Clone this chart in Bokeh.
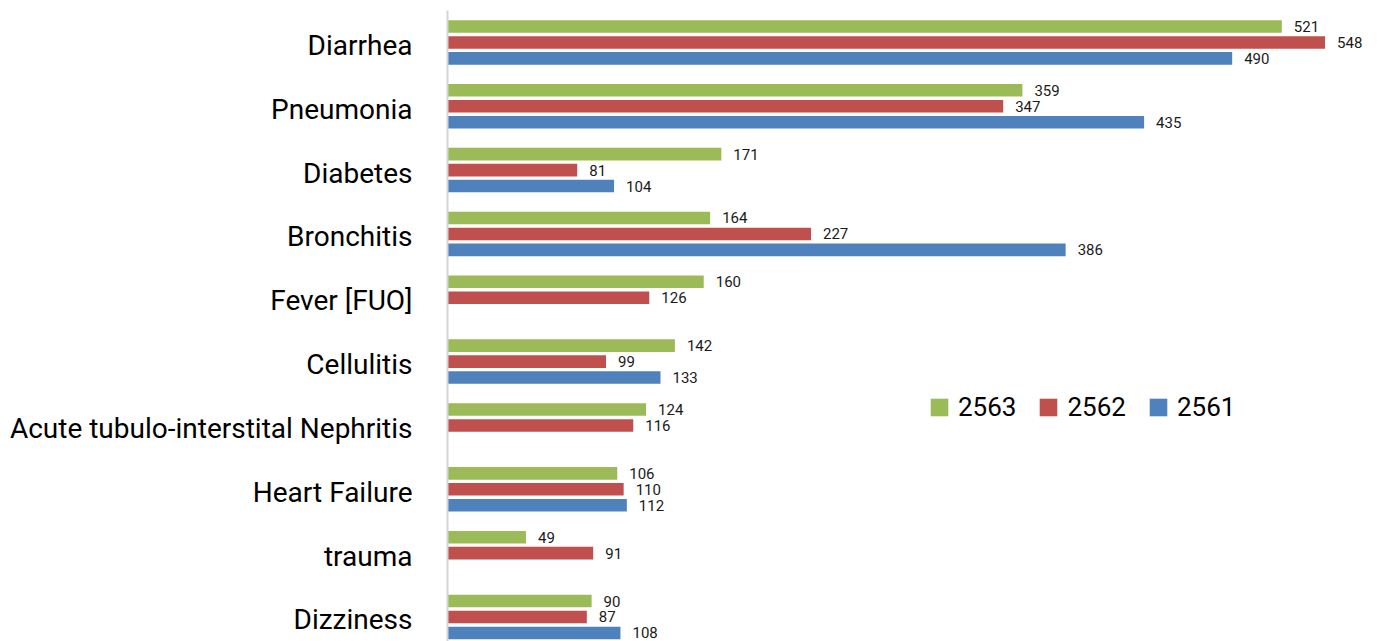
from bokeh.plotting import figure
from bokeh.models import ColumnDataSource, Range1d, FixedTicker, Legend, LegendItem
from bokeh.core.properties import value
from bokeh.embed import file_html
from bokeh.resources import INLINE

# Top ten diagnoses, counts per year (Buddhist era)
categories = ["Diarrhea", "Pneumonia", "Diabetes", "Bronchitis", "Fever [FUO]",
              "Cellulitis", "Acute tubulo-interstital Nephritis", "Heart Failure",
              "trauma", "Dizziness"]
years = ["2563", "2562", "2561"]
counts_2563 = [521, 359, 171, 164, 160, 142, 124, 106, 49, 90]
counts_2562 = [548, 347, 81, 227, 126, 99, 116, 110, 91, 87]
counts_2561 = [490, 435, 104, 386, None, 133, None, 112, None, 108]

colors = {"2563": "#9BBB59", "2562": "#C0504D", "2561": "#4F81BD"}
offsets = {"2563": 0.25, "2562": 0.0, "2561": -0.25}
series = {"2563": counts_2563, "2562": counts_2562, "2561": counts_2561}

FONT = "Roboto"
n = len(categories)
centers = [n - 1 - i for i in range(n)]
# category names sit a touch below the middle of each group
label_shift = 0.046875
tick_pos = [c - label_shift for c in centers]

p = figure(width=1379, height=641, output_backend="svg", toolbar_location=None,
           x_range=Range1d(0, 582), y_range=Range1d(-0.384, n - 0.5),
           min_border_left=447, min_border_right=0, min_border_top=10,
           min_border_bottom=0)
p.outline_line_color = None
p.xgrid.visible = False
p.ygrid.visible = False
p.xaxis.visible = False
p.background_fill_color = "white"
p.border_fill_color = "white"

renderers = {}
for yr in years:
    ys, xs, labels = [], [], []
    for c, v in zip(centers, series[yr]):
        if v is None:
            continue
        ys.append(c + offsets[yr])
        xs.append(v)
        labels.append(str(v))
    src = ColumnDataSource(dict(y=ys, x=xs, label=labels))
    r = p.hbar(y="y", right="x", left=0, height=0.197, source=src,
               fill_color=colors[yr], line_color=None)
    renderers[yr] = r
    p.text(x="x", y="y", text="label", source=src, x_offset=12, y_offset=0,
           text_align="left", text_baseline="middle",
           text_font=value(FONT), text_font_size="15px", text_color="#1a1a1a")

yax = p.yaxis[0]
yax.ticker = FixedTicker(ticks=tick_pos)
yax.major_label_overrides = {t: cat for t, cat in zip(tick_pos, categories)}
yax.major_tick_line_color = None
yax.minor_tick_line_color = None
yax.axis_line_color = "#d4d4d4"
yax.axis_line_width = 2
yax.major_label_standoff = 29
yax.major_label_text_font = FONT
yax.major_label_text_font_size = "28px"
yax.major_label_text_color = "#000000"

legend = Legend(items=[LegendItem(label=yr, renderers=[renderers[yr]]) for yr in years],
                orientation="horizontal", location=(481, 219),
                padding=0, margin=0, spacing=21, label_standoff=8,
                glyph_width=22, glyph_height=22, label_height=22,
                label_text_font=FONT, label_text_font_size="26px",
                label_text_color="#000000",
                border_line_color=None, background_fill_alpha=0)
p.add_layout(legend)

open("out.html", "w").write(file_html(p, INLINE))
